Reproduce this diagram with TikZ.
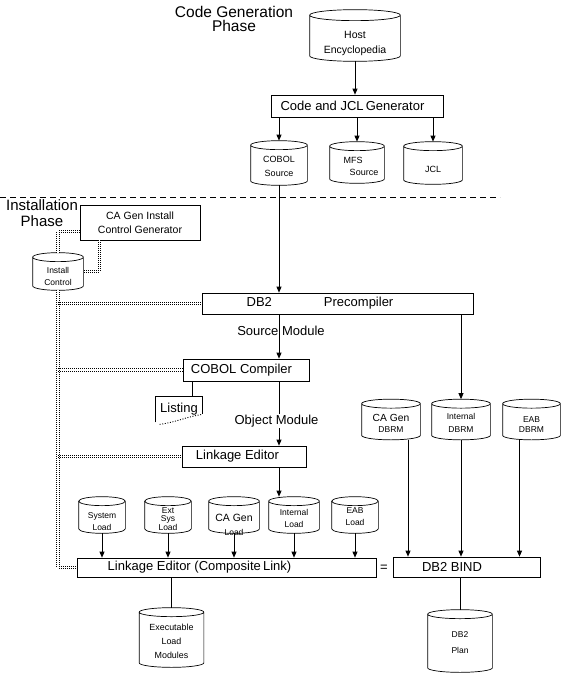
\documentclass[tikz,border=0pt]{standalone}
\usepackage{fontspec}
\setmainfont{Liberation Sans}
\usetikzlibrary{arrows.meta,calc}
% text inside a cylinder: [font size]{shift down of first baseline}{baselineskip}{lines}
\newcommand{\cytx}[4][8.5]{\raisebox{-#2pt}[0pt][0pt]{\fontsize{#1}{#3}\selectfont\begin{tabular}[t]{@{}c@{}}#4\end{tabular}}}
% outline of a cylinder round a named node: [ellipse half height]{node}
\newcommand{\cylout}[2][4.5]{%
  \draw let \p1=(#2.north west), \p2=(#2.south east), \n1={(\x2-\x1)/2} in
   ({\x1},{\y1-#1pt}) -- ({\x1},{\y2+#1pt})
   arc[start angle=180,end angle=360,x radius={\n1*1pt},y radius={#1pt}]
   -- ({\x2},{\y1-#1pt})
   arc[start angle=0,end angle=180,x radius={\n1*1pt},y radius={#1pt}]
   arc[start angle=180,end angle=360,x radius={\n1*1pt},y radius={#1pt}];}
\begin{document}
\begin{tikzpicture}[x=1pt,y=-1pt,line width=0.7pt,
  box/.style={draw,rectangle,inner sep=0pt,font=\fontsize{13}{15}\selectfont},
  cyl/.style={rectangle,inner sep=0pt},
  arr/.style={-{Triangle[length=6pt,width=5pt]}},
  ctrl/.style={line width=1pt,double,double distance=1.4pt,dash pattern=on 1pt off 1pt},
  phase/.style={align=center,font=\fontsize{15.5}{14}\selectfont,inner sep=0pt},
  lbl/.style={font=\fontsize{13}{15}\selectfont,inner sep=1pt}]
\useasboundingbox (0,0) rectangle (576,677);

% phase titles
\node[phase] (cgphase) at (234,19) {Code Generation\\Phase};
\node[phase,font=\fontsize{15}{16}\selectfont] (iphase) at (42,213) {Installation\\Phase};

% boxes
\node[box,minimum width=172,minimum height=22] (codegen) at (357,106) {Code and JCL\,Generator\hspace*{9pt}};
\node[box,minimum width=120,minimum height=35,align=center,font=\fontsize{10.5}{14}\selectfont] (cagen) at (140,222.5) {CA Gen Install\\Control Generator};
\node[box,minimum width=271,minimum height=21] (precomp) at (337.5,303.5) {DB2\hspace{52pt}Precompiler\hspace*{35pt}};
\node[box,minimum width=126,minimum height=22] (cobolcomp) at (246,370) {COBOL Compiler\hspace*{9pt}};
\node[box,minimum width=124,minimum height=21] (linked) at (244,456.5) {Linkage Editor\hspace*{13pt}};
\node[box,minimum width=299,minimum height=19] (comp) at (226.5,567.5) {Linkage Editor (Composite\,Link)\hspace*{54pt}};
\node[box,minimum width=147,minimum height=20] (bind) at (466.5,567) {DB2 BIND\hspace*{29pt}};

% cylinders
\node[cyl,minimum width=90,minimum height=51] (host) at (355,35.5) {\cytx[10.5]{2.5}{16}{Host\\Encyclopedia}};
\node[cyl,minimum width=56,minimum height=44] (cobolsrc) at (279,163) {\cytx[9]{-1}{14}{COBOL\\Source}};
\node[cyl,minimum width=54,minimum height=41] (mfs) at (357,162.5) {\cytx[9]{0.5}{12}{MFS\hspace*{8pt}\\\hspace*{14pt}Source}};
\node[cyl,minimum width=58,minimum height=42] (jcl) at (433,163) {\cytx[9]{9}{12}{JCL}};
\node[cyl,minimum width=50,minimum height=37] (ic) at (58,271.5) {\cytx{2}{12}{Install\\Control}};
\node[cyl,minimum width=58,minimum height=40] (cagendbrm) at (391,419.5) {\cytx{1.5}{11}{{\fontsize{10.3}{11}\selectfont CA Gen}\\DBRM}};
\node[cyl,minimum width=58,minimum height=40] (intdbrm) at (461,419.5) {\cytx{-0.5}{13}{Internal\\DBRM}};
\node[cyl,minimum width=57,minimum height=40] (eabdbrm) at (531.5,419.5) {\cytx{2.5}{10}{EAB\\DBRM}};
\node[cyl,minimum width=46,minimum height=36] (sysload) at (102,515) {\cytx{3}{12}{System\\Load}};
\node[cyl,minimum width=46,minimum height=36] (extsys) at (168,515) {\cytx{-2}{8.5}{Ext\\Sys\\Load}};
\node[cyl,minimum width=50,minimum height=36] (cagenload) at (234,515) {\cytx{6}{14}{{\fontsize{10.5}{12}\selectfont CA Gen}\\Load}};
\node[cyl,minimum width=50,minimum height=36] (intload) at (294,515) {\cytx{0}{12}{Internal\\Load}};
\node[cyl,minimum width=46,minimum height=36] (eabload) at (355,515) {\cytx{-2}{12}{EAB\\Load}};
\node[cyl,minimum width=64,minimum height=59] (exe) at (171.5,637.5) {\cytx[8.9]{-7.5}{14}{Executable\\Load\\Modules}};
\node[cyl,minimum width=64,minimum height=62] (plan) at (460,641) {\cytx{-4}{16}{DB2\\Plan}};
\cylout[5.5]{host}
\foreach \c in {cobolsrc,mfs,jcl,ic,cagendbrm,intdbrm,eabdbrm,sysload,extsys,cagenload,intload,eabload,exe,plan}{\cylout{\c}}

% listing
\node[cyl,minimum width=46,minimum height=25,font=\fontsize{13}{15}\selectfont] (listing) at (179,409.5) {\raisebox{2pt}{Listing}};
\draw (listing.south west) -- (listing.north west) -- (listing.north east) -- ([yshift=8pt]listing.south east);
\draw[line width=0.9pt,dash pattern=on 1pt off 1.6pt] ([xshift=4pt,yshift=-2pt]listing.south west) .. controls ([xshift=20pt,yshift=0pt]listing.south west) and ([xshift=-18pt,yshift=5pt]listing.south east) .. ([yshift=8pt]listing.south east);

% divider
\coordinate (dashL) at (0,197);
\coordinate (dashR) at (500,197);
\draw[dash pattern=on 6pt off 4pt] (dashL) -- (dashR);

% flow connectors
\draw[arr] (host.south) -- (host.south |- codegen.north);
\foreach \n in {cobolsrc,mfs,jcl}{\draw[arr] (\n.north |- codegen.south) -- (\n.north);}
\draw[arr] (cobolsrc.south) -- (cobolsrc.south |- precomp.north);
\draw[arr] (cobolsrc.south |- precomp.south) -- (cobolsrc.south |- cobolcomp.north);
\draw[arr] (cobolsrc.south |- cobolcomp.south) -- (cobolsrc.south |- linked.north);
\draw[arr] (cobolsrc.south |- linked.south) -- (cobolsrc.south |- intload.north);
\draw ([xshift=13pt]listing.north) -- ([xshift=13pt]listing.north |- cobolcomp.south);
\draw[arr] (intdbrm.north |- precomp.south) -- (intdbrm.north);
\draw[arr] ([xshift=17pt]cagendbrm.south) -- ([xshift=17pt]cagendbrm.south |- bind.north);
\draw[arr] (intdbrm.south) -- (intdbrm.south |- bind.north);
\draw[arr] ([xshift=-12pt]eabdbrm.south) -- ([xshift=-12pt]eabdbrm.south |- bind.north);
\foreach \n in {sysload,extsys,cagenload,intload,eabload}{\draw[arr] (\n.south) -- (\n.south |- comp.north);}
\draw (comp.south -| exe.north) -- (exe.north);
\draw (bind.south -| plan.north) -- (plan.north);

% labels
\node[lbl] (srcmod) at (281,331) {Source Module};
\node[lbl,fill=white] (objmod) at (276.5,421) {Object Module};
\node[lbl] (eq) at (384,568) {=};

% install control lines
\draw[ctrl] ([yshift=-9pt]cagen.west) -| (ic.north);
\draw[ctrl] ([xshift=20pt]cagen.south west) |- (ic.east);
\draw[ctrl] (ic.south) |- (comp.west);
\draw[ctrl] (ic.south |- precomp.west) -- (precomp.west);
\draw[ctrl] (ic.south |- cobolcomp.west) -- (cobolcomp.west);
\draw[ctrl] (ic.south |- linked.west) -- (linked.west);
\end{tikzpicture}
\end{document}
